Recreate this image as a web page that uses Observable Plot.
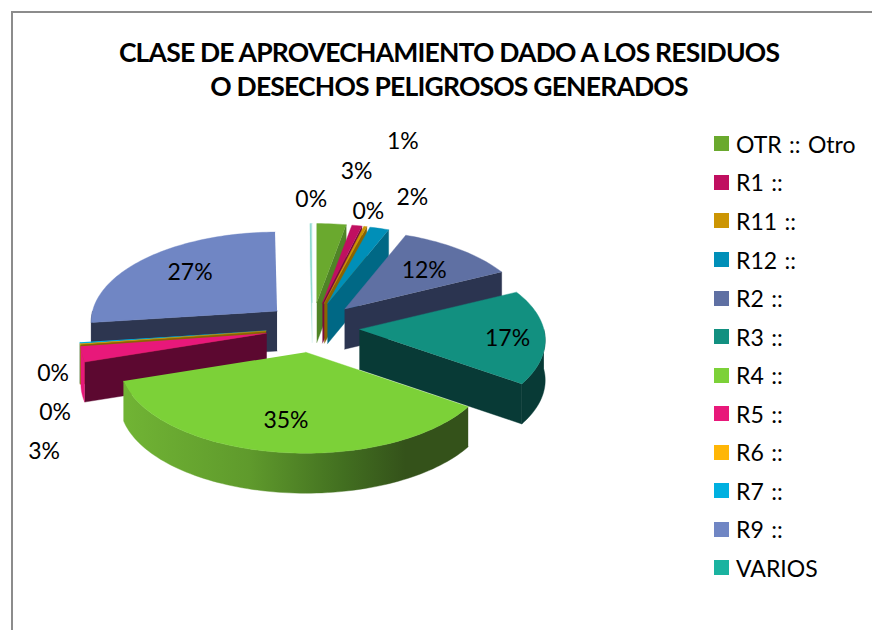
<!DOCTYPE html>
<html lang="es">
<head>
<meta charset="utf-8">
<title>Clase de aprovechamiento</title>
<script src="https://cdn.jsdelivr.net/npm/d3@7"></script>
<script src="https://cdn.jsdelivr.net/npm/@observablehq/plot@0.6"></script>
<style>
  html, body { margin: 0; padding: 0; background: #fff; width: 872px; height: 630px; overflow: hidden; }
  body { position: relative; font-family: Lato, "Noto Sans", sans-serif; color: #000; }
  #frame { position: absolute; left: 11px; top: 11px; right: -10px; bottom: -10px; border: 2px solid #8c8c8c; }
  #title { position: absolute; left: 14px; width: 870px; top: 35px; margin: 0; text-align: center; font-size: 26.5px; font-weight: 700; line-height: 34px; letter-spacing: -0.8px; }
  #legend { position: absolute; left: 714px; top: 124.6px; }
  .row { display: flex; align-items: center; height: 38.55px; font-size: 23px; word-spacing: 1.5px; white-space: nowrap; }
  .sw { width: 15px; height: 15px; margin-right: 7px; flex: none; }
  #chart { position: absolute; left: 0; top: 0; }
</style>
</head>
<body>
<div id="frame"></div>
<div id="chart"></div>
<h1 id="title">CLASE DE APROVECHAMIENTO DADO A LOS RESIDUOS<br>O DESECHOS PELIGROSOS GENERADOS</h1>
<div id="legend"></div>
<script>
// ---- Data ----
const categories = ["OTR :: Otro", "R1 ::", "R11 ::", "R12 ::", "R2 ::", "R3 ::", "R4 ::", "R5 ::", "R6 ::", "R7 ::", "R9 ::", "VARIOS"];
const shares     = [2.9, 1.0, 0.3, 1.9, 11.7, 16.8, 35.4, 2.7, 0.1, 0.2, 26.8, 0.2];

// ---- Styles ----
const topColors  = ["#6aa92e", "#c00f60", "#cc9503", "#008fb8", "#5f70a3", "#129080", "#7cd138", "#e8187a", "#ffb606", "#00b0e0", "#7086c4", "#1ab3a0"];
const cutColors  = ["#4f8426", "#7a0a3d", "#8a6402", "#006885", "#2b3450", "#083a36", "#34521a", "#5c0830", "#8a6402", "#006885", "#2d3650", "#1ab3a0"];
const rimColors  = ["#4f8426", "#7a0a3d", "#8a6402", "#006885", "#2b3450", "#083a36", "url(#r4rim)", "#e8187a", "#ffb606", "#00b0e0", "#2d3650", "#1ab3a0"];
const sliceAlpha = [1, 1, 1, 1, 1, 1, 1, 1, 1, 1, 1, 0.35];
const drawOrder  = [10, 11, 0, 1, 2, 3, 4, 9, 8, 7, 5, 6];
// label offset from the middle of each slice's rim, in pixels
const labelNudge = [[25,-52],[46,-84],[3,-15],[33,-31],[-35,21],[-37.5,2],[10,-31],[-38,97],[-25,69],[-27,31],[41,16],[0,-24]];

// ---- Projection of the tilted, exploded pie ----
const cx = 312, cy = 327, rx = 184.5, ry = 90, persp = 0.122, wall = 40, explodeX = 47, explodeY = 25;
const rad = d => d * Math.PI / 180;
const rim = a => { const z = -Math.cos(rad(a)), s = 1 + persp * z; return {x: rx * Math.sin(rad(a)) * s, y: ry * z * s}; };

let cum = 0;
const slices = shares.map((v, i) => {
  const a0 = cum / 100 * 360; cum += v; const a1 = cum / 100 * 360, mid = (a0 + a1) / 2;
  const apex = {x: cx + explodeX * Math.sin(rad(mid)), y: cy - explodeY * Math.cos(rad(mid))};
  return {i, a0, a1, mid, apex};
});

function arc(s, from, to, drop = 0) {
  const n = Math.max(1, Math.ceil(Math.abs(to - from) / 1.5)), out = [];
  for (let k = 0; k <= n; k++) {
    const p = rim(from + (to - from) * k / n);
    out.push({x: s.apex.x + p.x, y: s.apex.y + p.y + drop});
  }
  return out;
}
function cutFace(s, a) {
  const p = rim(a), q = {x: s.apex.x + p.x, y: s.apex.y + p.y};
  return [s.apex, q, {x: q.x, y: q.y + wall}, {x: s.apex.x, y: s.apex.y + wall}];
}

const faces = [];
for (const i of drawOrder) {
  const s = slices[i], op = sliceAlpha[i];
  if (Math.sin(rad(s.a1)) > 0) faces.push({pts: cutFace(s, s.a1), fill: cutColors[i], op});
  if (Math.sin(rad(s.a0)) < 0) faces.push({pts: cutFace(s, s.a0), fill: cutColors[i], op});
  const lo = Math.max(s.a0, 90), hi = Math.min(s.a1, 270);
  if (hi > lo) faces.push({pts: [...arc(s, lo, hi), ...arc(s, hi, lo, wall)], fill: rimColors[i], op});
  faces.push({pts: [s.apex, ...arc(s, s.a0, s.a1)], fill: topColors[i], op});
}

const labelRows = slices.map(s => {
  const p = rim(s.mid), [dx, dy] = labelNudge[s.i];
  return {x: s.apex.x + p.x + dx, y: s.apex.y + p.y + dy, text: Math.round(shares[s.i]) + "%"};
});

const gradient = () => {
  const defs = d3.create("svg:defs");
  const g = defs.append("linearGradient").attr("id", "r4rim").attr("gradientUnits", "userSpaceOnUse")
    .attr("x1", cx - rx).attr("x2", cx + rx * 0.88).attr("y1", 0).attr("y2", 0);
  [[0, "#70b334"], [0.35, "#5f9a2c"], [0.62, "#426f20"], [0.8, "#34521a"], [1, "#34521a"]]
    .forEach(([o, c]) => g.append("stop").attr("offset", o).attr("stop-color", c));
  return defs.node();
};

const chart = Plot.plot({
  width: 872, height: 630,
  margin: 0,
  style: {background: "transparent", fontFamily: "Lato, 'Noto Sans', sans-serif"},
  x: {domain: [0, 872], range: [0, 872], axis: null},
  y: {domain: [0, 630], range: [0, 630], axis: null},
  marks: [
    gradient,
    ...faces.map(f => Plot.line(f.pts, {x: "x", y: "y", fill: f.fill, fillOpacity: f.op, stroke: f.fill, strokeOpacity: f.op, strokeWidth: 0.4, curve: "linear"})),
    Plot.text(labelRows, {x: "x", y: "y", text: "text", fontSize: 23, fill: "#000", textAnchor: "middle", lineAnchor: "middle"})
  ]
});
document.getElementById("chart").appendChild(chart);

const legend = d3.select("#legend");
categories.forEach((c, i) => {
  const row = legend.append("div").attr("class", "row");
  row.append("span").attr("class", "sw").style("background", topColors[i]);
  row.append("span").text(c);
});
</script>
</body>
</html>
